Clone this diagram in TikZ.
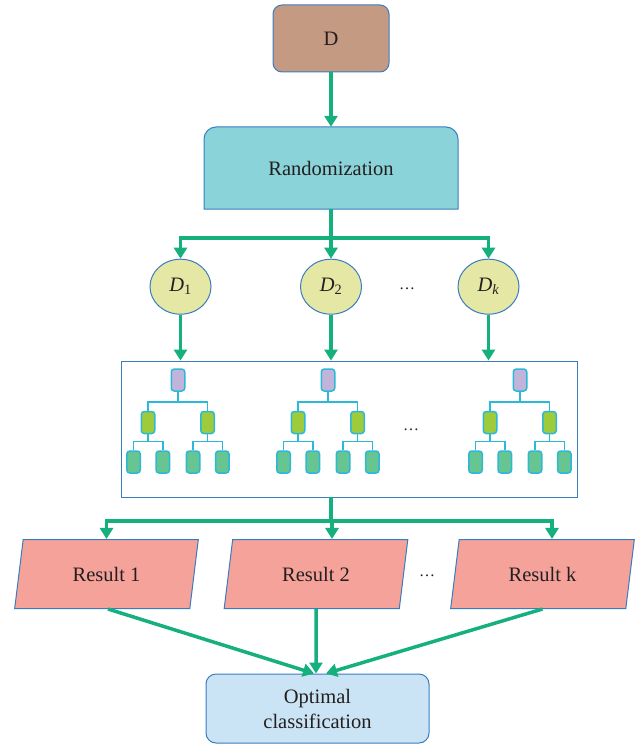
\documentclass[tikz,border=0pt]{standalone}
\usepackage{fontspec}
\setmainfont{Liberation Serif}
\usetikzlibrary{arrows.meta,shapes.geometric}
\definecolor{flowgreen}{HTML}{16B07E}
\definecolor{edgeblue}{HTML}{3A7CC0}
\definecolor{dfill}{HTML}{C49A82}
\definecolor{randfill}{HTML}{8AD3D8}
\definecolor{subfill}{HTML}{E5E8A5}
\definecolor{resfill}{HTML}{F5A39A}
\definecolor{optfill}{HTML}{CBE4F5}
\definecolor{rootfill}{HTML}{C0B4DA}
\definecolor{midfill}{HTML}{9DCB3C}
\definecolor{leaffill}{HTML}{66C591}
\definecolor{treeline}{HTML}{2CB8D9}
\definecolor{ink}{HTML}{231F20}

\begin{document}
\begin{tikzpicture}[x=1pt,y=-1pt,
  every node/.style={text=ink, font=\fontsize{20.5}{24}\selectfont},
  flow/.style={draw=flowgreen, line width=3.5pt, -{Triangle[width=13pt,length=11pt]}},
  flowline/.style={draw=flowgreen, line width=3.5pt},
  box/.style={draw=edgeblue, line width=1pt, inner sep=0pt},
  subset/.style={box, ellipse, fill=subfill, minimum width=61pt, minimum height=55pt},
  result/.style={box, trapezium, trapezium stretches=true, fill=resfill,
    trapezium left angle=76.5, trapezium right angle=103.5,
    minimum width=185pt, minimum height=69pt},
  tnode/.style={draw=treeline, line width=1.5pt, rounded corners=3pt,
    minimum width=13.5pt, minimum height=22pt, inner sep=0pt},
  troot/.style={tnode, fill=rootfill},
  tmid/.style={tnode, fill=midfill},
  tleaf/.style={tnode, fill=leaffill},
  tedge/.style={draw=treeline, line width=1.5pt},
  gap/.style={font=\fontsize{16}{18}\selectfont}
]
\useasboundingbox (0,0) rectangle (640,746);

% data set
\node[box, fill=dfill, rounded corners=9pt, minimum width=116pt, minimum height=67pt] (d) at (331,38.5) {D};

% randomization step: rounded on top, square at the bottom
\filldraw[fill=randfill, draw=edgeblue, line width=1pt]
  (204,209) -- (204,139) .. controls (204,132.4) and (209.4,127) .. (216,127)
  -- (446,127) .. controls (452.6,127) and (458,132.4) .. (458,139)
  -- (458,209) -- cycle;
\node[inner sep=0pt, minimum width=254pt, minimum height=82pt] (rand) at (331,168) {Randomization};

% bootstrap subsets
\node[subset] (d1) at (180.5,286.7) {\textit{D}\textsubscript{1}};
\node[subset] (d2) at (331,286.7) {\textit{D}\textsubscript{2}};
\node[subset] (dk) at (488.5,286.7) {\textit{D}\textsubscript{\textit{k}}};
\node[gap] (ddots) at (407,289) {\dots};

\draw[flow] (d) -- (rand);
\coordinate (split) at (331,238);
\draw[flowline] (rand.south) -- (split);
\draw[flow] (split) -| (d1.north);
\draw[flow] (split) -- (d2.north);
\draw[flow] (split) -| (dk.north);

% forest of decision trees
\node[draw=edgeblue, line width=0.9pt, minimum width=456pt, minimum height=136pt, inner sep=0pt] (forest) at (349,429) {};
\foreach \r [count=\i] in {178,328,520} {
  \node[troot] (t\i) at (\r,380) {};
  \node[tmid] (t\i-a) at (\r-30,422.5) {};
  \node[tmid] (t\i-b) at (\r+29.5,422.5) {};
  \node[tleaf] (t\i-aa) at (\r-44.5,462) {};
  \node[tleaf] (t\i-ab) at (\r-15.2,462) {};
  \node[tleaf] (t\i-ba) at (\r+15,462) {};
  \node[tleaf] (t\i-bb) at (\r+44.3,462) {};
  \draw[tedge] (t\i.south) -- ++(0,10) -| (t\i-a.north);
  \draw[tedge] (t\i.south) -- ++(0,10) -| (t\i-b.north);
  \draw[tedge] (t\i-a.south) -- ++(0,7) -| (t\i-aa.north);
  \draw[tedge] (t\i-a.south) -- ++(0,7) -| (t\i-ab.north);
  \draw[tedge] (t\i-b.south) -- ++(0,7) -| (t\i-ba.north);
  \draw[tedge] (t\i-b.south) -- ++(0,7) -| (t\i-bb.north);
}
\node[gap] (tdots) at (411,430) {\dots};

\draw[flow] (d1.south) -- (d1.south |- forest.north);
\draw[flow] (d2.south) -- (d2.south |- forest.north);
\draw[flow] (dk.south) -- (dk.south |- forest.north);

% per-tree results
\node[result] (r1) at (106.5,574) {Result 1};
\node[result] (r2) at (316,574) {Result 2};
\node[result] (rk) at (542.5,574) {Result k};
\node[gap] (rdots) at (427,576) {\dots};

\coordinate (merge) at (331,521);
\draw[flowline] (d2 |- forest.south) -- (merge);
\draw[flow] (merge) -| (r1.north);
\draw[flow] (merge) -| ([xshift=16pt]r2.north);
\draw[flow] (merge) -| ([xshift=9.5pt]rk.north);

% final vote
\node[box, fill=optfill, rounded corners=10pt, minimum width=223pt, minimum height=69pt, align=center,
  font=\fontsize{20.5}{25}\selectfont] (opt) at (317.5,708.5) {Optimal\\classification};

\draw[flow] ([xshift=1.5pt]r1.south) -- ([xshift=-3.5pt]opt.north);
\draw[flow] (r2.south) -- ([xshift=-1.5pt]opt.north);
\draw[flow] (rk.south) -- ([xshift=8.5pt]opt.north);
\end{tikzpicture}
\end{document}
